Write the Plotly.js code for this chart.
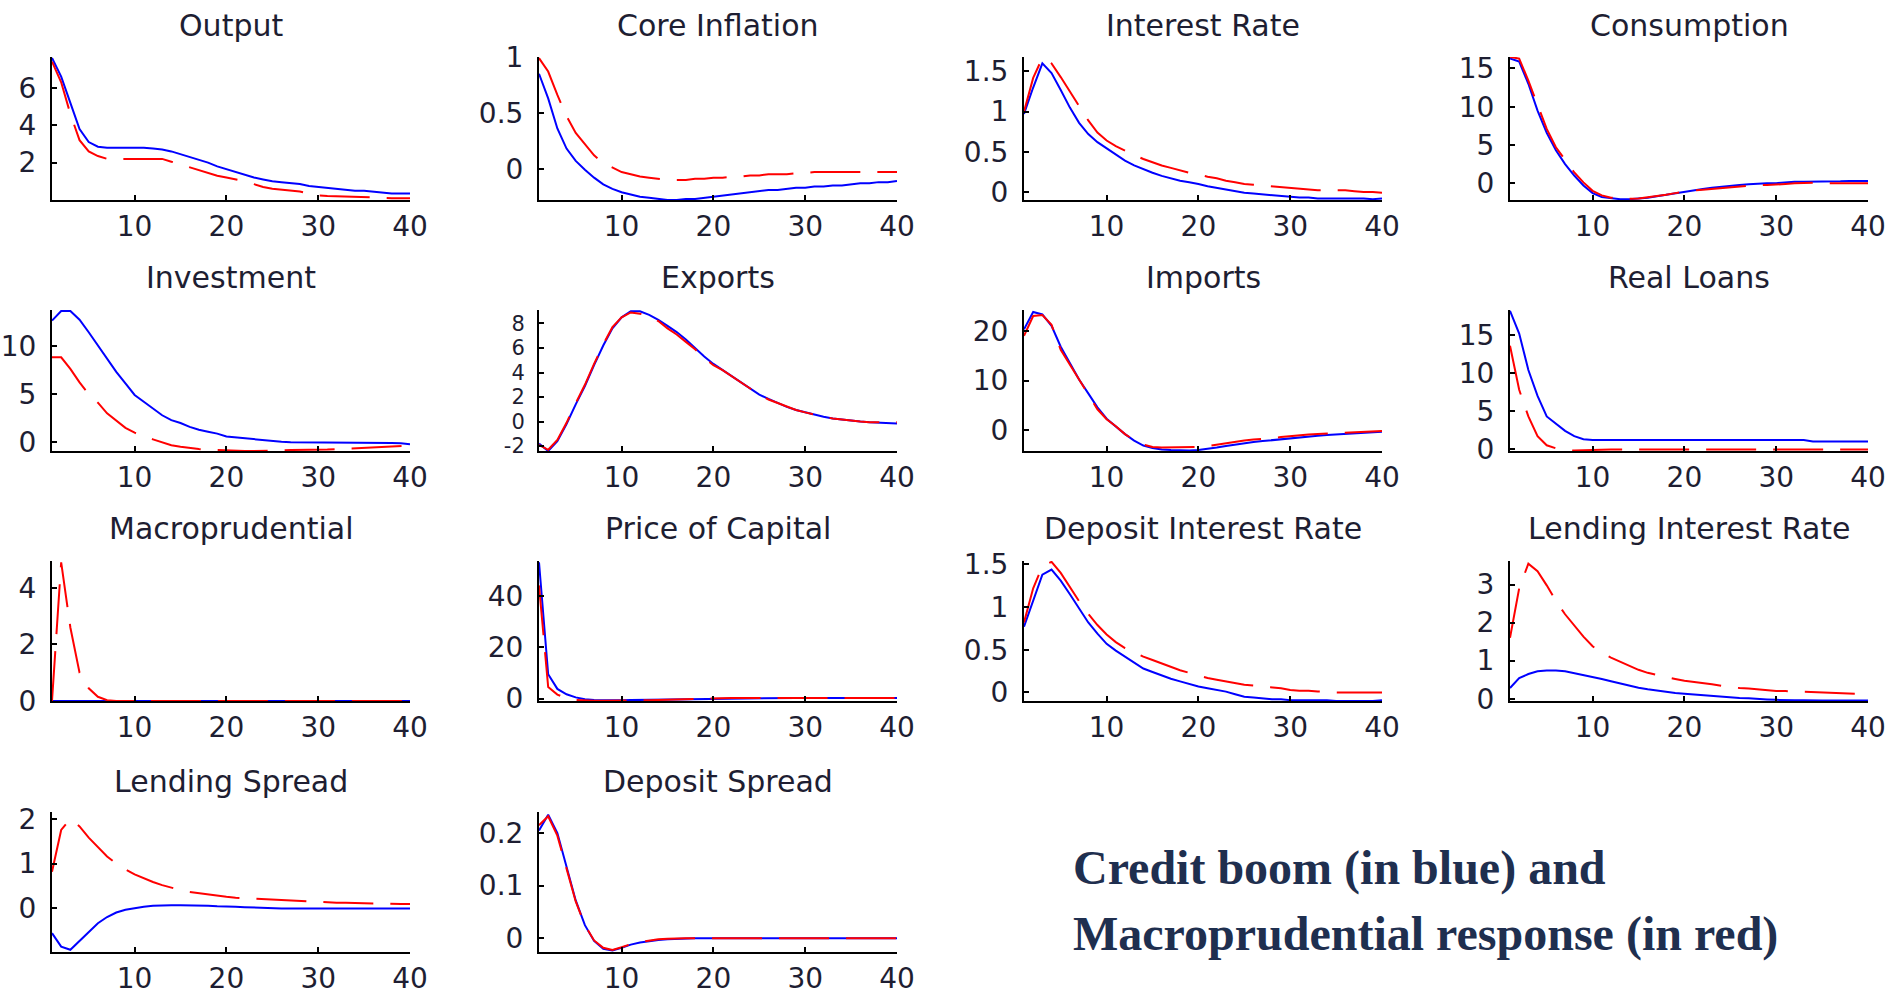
<!DOCTYPE html>
<html><head><meta charset="utf-8">
<script src="https://cdn.plot.ly/plotly-3.0.1.min.js"></script>
<style>html,body{margin:0;padding:0;background:#fff;}#chart{width:1895px;height:994px;}</style>
</head><body><div id="chart"></div>
<script>
const periods = [1,2,3,4,5,6,7,8,9,10,11,12,13,14,15,16,17,18,19,20,21,22,23,24,25,26,27,28,29,30,31,32,33,34,35,36,37,38,39,40];
const panelTitles = ["Output","Core Inflation","Interest Rate","Consumption","Investment","Exports","Imports","Real Loans","Macroprudential","Price of Capital","Deposit Interest Rate","Lending Interest Rate","Lending Spread","Deposit Spread"];
const xTickVals = [10,20,30,40];

// Credit boom (blue)
const outputBoom = [7.6,6.6,5.2,3.8,3.1,2.85,2.8,2.8,2.8,2.8,2.8,2.75,2.7,2.6,2.45,2.3,2.15,2.0,1.8,1.65,1.5,1.35,1.2,1.1,1.0,0.95,0.9,0.85,0.75,0.7,0.65,0.6,0.55,0.5,0.5,0.45,0.4,0.35,0.35,0.35];
const inflationBoom = [0.85,0.63,0.36,0.18,0.07,-0.01,-0.08,-0.14,-0.18,-0.21,-0.23,-0.25,-0.26,-0.27,-0.28,-0.28,-0.27,-0.27,-0.26,-0.25,-0.24,-0.23,-0.22,-0.21,-0.2,-0.19,-0.19,-0.18,-0.17,-0.17,-0.16,-0.16,-0.15,-0.15,-0.14,-0.13,-0.13,-0.12,-0.12,-0.11];
const rateBoom = [0.97,1.3,1.6,1.48,1.27,1.05,0.86,0.72,0.62,0.54,0.46,0.39,0.33,0.28,0.24,0.2,0.17,0.14,0.12,0.1,0.07,0.05,0.03,0.01,-0.01,-0.02,-0.03,-0.04,-0.05,-0.06,-0.07,-0.07,-0.08,-0.08,-0.08,-0.08,-0.08,-0.08,-0.09,-0.08];
const consumptionBoom = [16.3,15.9,13.0,9.5,6.6,4.3,2.5,1.0,-0.3,-1.3,-1.8,-2.0,-2.1,-2.1,-2.05,-1.9,-1.7,-1.5,-1.3,-1.05,-0.9,-0.75,-0.6,-0.45,-0.35,-0.25,-0.15,-0.05,0.0,0.0,0.1,0.2,0.2,0.2,0.2,0.25,0.25,0.3,0.3,0.3];
const investmentBoom = [12.6,13.6,13.6,12.7,11.4,10.0,8.6,7.3,6.1,4.9,4.2,3.5,2.8,2.3,2.0,1.6,1.3,1.1,0.9,0.6,0.5,0.45,0.35,0.25,0.1,0.05,0.0,0.0,-0.05,-0.07,-0.07,-0.07,-0.07,-0.07,-0.07,-0.07,-0.07,-0.07,-0.1,-0.2];
const exportsBoom = [-1.8,-2.4,-1.6,-0.2,1.4,2.9,4.6,6.2,7.6,8.5,9.0,9.0,8.7,8.3,7.8,7.3,6.7,6.0,5.3,4.7,4.2,3.75,3.2,2.7,2.2,1.85,1.5,1.2,0.95,0.75,0.55,0.4,0.25,0.15,0.05,0.0,-0.05,-0.1,-0.15,-0.15];
const importsBoom = [20.3,23.8,23.3,21.0,16.8,13.4,10.2,7.4,4.6,2.3,0.8,-0.8,-2.1,-3.1,-3.6,-3.9,-4.0,-4.1,-4.1,-4.0,-3.8,-3.5,-3.2,-2.9,-2.6,-2.4,-2.2,-2.0,-1.8,-1.6,-1.45,-1.3,-1.15,-1.0,-0.9,-0.8,-0.7,-0.6,-0.5,-0.3];
const loansBoom = [18.2,15.2,10.4,7.0,4.3,3.3,2.4,1.7,1.3,1.2,1.2,1.2,1.2,1.2,1.2,1.2,1.2,1.2,1.2,1.2,1.2,1.2,1.2,1.2,1.2,1.2,1.2,1.2,1.2,1.2,1.2,1.2,1.2,1.0,1.0,1.0,1.0,1.0,1.0,1.0];
const macroBoom = [0,0,0,0,0,0,0,0,0,0,0,0,0,0,0,0,0,0,0,0,0,0,0,0,0,0,0,0,0,0,0,0,0,0,0,0,0,0,0,0];
const capitalBoom = [53,9.5,3.8,1.7,0.5,-0.2,-0.5,-0.6,-0.6,-0.6,-0.55,-0.5,-0.45,-0.4,-0.35,-0.3,-0.2,-0.1,0,0.1,0.15,0.2,0.2,0.25,0.25,0.3,0.3,0.3,0.3,0.3,0.3,0.3,0.3,0.3,0.3,0.3,0.3,0.3,0.3,0.3];
const depositRateBoom = [0.77,1.07,1.38,1.44,1.31,1.15,0.98,0.82,0.69,0.57,0.49,0.42,0.35,0.28,0.24,0.2,0.16,0.13,0.1,0.07,0.05,0.03,0.01,-0.02,-0.05,-0.06,-0.07,-0.08,-0.08,-0.09,-0.09,-0.09,-0.09,-0.09,-0.1,-0.1,-0.1,-0.1,-0.1,-0.09];
const lendingRateBoom = [0.28,0.54,0.65,0.72,0.74,0.74,0.72,0.67,0.63,0.58,0.52,0.46,0.4,0.34,0.29,0.25,0.21,0.18,0.15,0.13,0.11,0.09,0.07,0.05,0.03,0.02,0.01,-0.01,-0.02,-0.03,-0.04,-0.04,-0.04,-0.05,-0.05,-0.05,-0.05,-0.05,-0.05,-0.05];
const lendingSpreadBoom = [-0.55,-0.85,-0.92,-0.72,-0.52,-0.33,-0.19,-0.09,-0.03,0.01,0.04,0.06,0.07,0.07,0.07,0.07,0.06,0.06,0.05,0.05,0.04,0.03,0.02,0.01,0.01,0,0,0,0,0,0,0,0,0,0,0,0,0,0,0];
const depositSpreadBoom = [0.205,0.235,0.2,0.135,0.072,0.025,-0.005,-0.02,-0.023,-0.018,-0.012,-0.008,-0.005,-0.003,-0.002,-0.001,0,0,0,0,0,0,0,0,0,0,0,0,0,0,0,0,0,0,0,0,0,0,0,0];

// Macroprudential response (red)
const outputMacro = [7.4,6.3,4.6,3.2,2.6,2.35,2.2,2.2,2.2,2.2,2.2,2.2,2.2,2.05,1.9,1.75,1.6,1.45,1.3,1.2,1.1,1.0,0.85,0.7,0.6,0.55,0.5,0.45,0.35,0.25,0.22,0.2,0.18,0.15,0.13,0.12,0.11,0.1,0.1,0.1];
const inflationMacro = [0.99,0.87,0.66,0.47,0.32,0.22,0.12,0.05,0.01,-0.03,-0.05,-0.07,-0.08,-0.09,-0.1,-0.1,-0.1,-0.09,-0.09,-0.08,-0.08,-0.07,-0.07,-0.06,-0.06,-0.05,-0.05,-0.05,-0.04,-0.04,-0.03,-0.03,-0.03,-0.03,-0.03,-0.03,-0.03,-0.03,-0.03,-0.03];
const rateMacro = [1.0,1.42,1.67,1.6,1.43,1.25,1.07,0.89,0.74,0.64,0.57,0.51,0.46,0.41,0.37,0.33,0.3,0.27,0.24,0.22,0.19,0.17,0.14,0.12,0.1,0.09,0.08,0.07,0.06,0.05,0.04,0.03,0.02,0.02,0.02,0.02,0.01,0.0,0.0,-0.01];
const consumptionMacro = [16.5,16.3,13.4,10.2,7.1,4.7,3.0,1.4,0.1,-1.0,-1.6,-1.9,-2.0,-2.05,-2.0,-1.85,-1.7,-1.5,-1.3,-1.1,-0.95,-0.85,-0.75,-0.6,-0.5,-0.4,-0.3,-0.25,-0.25,-0.2,-0.1,0.0,0.05,0.05,0.0,0.0,0.0,0.0,0.0,0.0];
const investmentMacro = [8.8,8.8,7.6,6.2,5.0,4.1,3.0,2.2,1.5,1.0,0.6,0.3,0.0,-0.3,-0.45,-0.6,-0.7,-0.75,-0.8,-0.85,-0.85,-0.9,-0.9,-0.9,-0.85,-0.85,-0.8,-0.8,-0.8,-0.75,-0.75,-0.7,-0.65,-0.6,-0.55,-0.5,-0.45,-0.4,-0.35,-0.35];
const exportsMacro = [-1.9,-2.3,-1.5,-0.1,1.5,3.0,4.7,6.3,7.7,8.5,8.9,8.8,8.6,8.2,7.6,7.1,6.5,5.9,5.2,4.6,4.2,3.7,3.2,2.7,2.2,1.8,1.5,1.2,0.95,0.75,0.55,0.4,0.25,0.15,0.05,0.0,-0.05,-0.05,-0.05,-0.05];
const importsMacro = [19.0,23.0,23.2,21.2,16.2,13.2,10.0,7.0,4.2,2.2,0.8,-0.8,-2.0,-2.9,-3.4,-3.5,-3.5,-3.5,-3.5,-3.4,-3.2,-2.9,-2.7,-2.4,-2.1,-1.9,-1.8,-1.6,-1.4,-1.2,-1.0,-0.9,-0.8,-0.7,-0.6,-0.5,-0.4,-0.35,-0.3,-0.15];
const loansMacro = [13.6,7.8,4.3,1.7,0.5,0.1,-0.1,-0.2,-0.15,-0.1,-0.05,-0.05,-0.05,-0.05,-0.05,-0.05,-0.05,-0.05,-0.05,-0.05,-0.05,-0.05,-0.05,-0.05,-0.05,-0.05,-0.05,-0.05,-0.05,-0.05,-0.05,-0.05,-0.05,-0.05,-0.05,-0.05,-0.05,-0.05,-0.05,-0.05];
const macroMacro = [0,4.9,2.6,1.0,0.45,0.15,0.03,0,0,0,0,0,0,0,0,0,0,0,0,0,0,0,0,0,0,0,0,0,0,0,0,0,0,0,0,0,0,0,0,0];
const capitalMacro = [44,4.5,1.6,0.2,-0.5,-0.7,-0.8,-0.8,-0.8,-0.8,-0.75,-0.7,-0.6,-0.5,-0.4,-0.3,-0.1,0.1,0.2,0.3,0.3,0.3,0.3,0.3,0.3,0.3,0.3,0.3,0.3,0.3,0.3,0.3,0.3,0.3,0.3,0.3,0.3,0.3,0.3,0.3];
const depositRateMacro = [0.82,1.22,1.48,1.53,1.4,1.23,1.07,0.92,0.79,0.68,0.59,0.52,0.47,0.42,0.38,0.34,0.3,0.26,0.23,0.2,0.17,0.15,0.13,0.11,0.09,0.08,0.07,0.06,0.05,0.03,0.02,0.02,0.01,0.01,0.0,0.0,0.0,0.0,0.0,0.0];
const lendingRateMacro = [1.6,2.9,3.55,3.35,2.98,2.57,2.22,1.92,1.63,1.38,1.2,1.08,0.97,0.85,0.76,0.68,0.62,0.57,0.52,0.47,0.44,0.42,0.38,0.34,0.31,0.28,0.27,0.25,0.22,0.2,0.2,0.19,0.18,0.17,0.16,0.15,0.14,0.13,0.13,0.12];
const lendingSpreadMacro = [0.82,1.75,2.0,1.83,1.58,1.37,1.16,1.0,0.87,0.76,0.67,0.59,0.52,0.46,0.41,0.37,0.34,0.31,0.28,0.26,0.24,0.23,0.21,0.2,0.19,0.18,0.17,0.16,0.15,0.15,0.14,0.13,0.13,0.12,0.12,0.11,0.11,0.1,0.1,0.1];
const depositSpreadMacro = [0.215,0.232,0.195,0.13,0.07,0.025,-0.004,-0.018,-0.022,-0.017,-0.011,-0.007,-0.004,-0.002,-0.001,0,0,0,0,0,0,0,0,0,0,0,0,0,0,0,0,0,0,0,0,0,0,0,0,0];

// y tick labels per panel
const outputTicks = [2,4,6];
const inflationTicks = [0,0.5,1];
const rateTicks = [0,0.5,1,1.5];
const consumptionTicks = [0,5,10,15];
const investmentTicks = [0,5,10];
const exportsTicks = [-2,0,2,4,6,8];
const importsTicks = [0,10,20];
const loansTicks = [0,5,10,15];
const macroTicks = [0,2,4];
const capitalTicks = [0,20,40];
const depositRateTicks = [0,0.5,1,1.5];
const lendingRateTicks = [0,1,2,3];
const lendingSpreadTicks = [0,1,2];
const depositSpreadTicks = [0,0.1,0.2];

const boomSeries = [outputBoom,inflationBoom,rateBoom,consumptionBoom,investmentBoom,exportsBoom,importsBoom,loansBoom,macroBoom,capitalBoom,depositRateBoom,lendingRateBoom,lendingSpreadBoom,depositSpreadBoom];
const macroSeries = [outputMacro,inflationMacro,rateMacro,consumptionMacro,investmentMacro,exportsMacro,importsMacro,loansMacro,macroMacro,capitalMacro,depositRateMacro,lendingRateMacro,lendingSpreadMacro,depositSpreadMacro];
const tickSets = [outputTicks,inflationTicks,rateTicks,consumptionTicks,investmentTicks,exportsTicks,importsTicks,loansTicks,macroTicks,capitalTicks,depositRateTicks,lendingRateTicks,lendingSpreadTicks,depositSpreadTicks];

// layout (styling only)
const yRanges = [[0,7.65],[-0.28,1.0],[-0.1,1.68],[-2.2,16.5],[-0.9,13.7],[-2.4,9.1],[-4.2,24.2],[-0.25,18.3],[0,4.95],[-0.9,53.5],[-0.1,1.54],[-0.06,3.62],[-0.97,2.15],[-0.026,0.24]];
const W = 1895, H = 994;
const colLeft = [52,539,1024,1510], colWidth = 358;
const rowTop = [57,310,561,812], rowBottom = [200,451,701,952];
const titleY = [25,277,528,781];
const textColor = '#1e1e32';
const FONT = 'DejaVu Sans, Arial, sans-serif';

const data = [];
const layout = {
  width: W, height: H, margin: {l:0,r:0,t:0,b:0},
  paper_bgcolor: '#fff', plot_bgcolor: 'rgba(0,0,0,0)', showlegend: false,
  annotations: []
};
for (let i = 0; i < panelTitles.length; i++) {
  const r = Math.floor(i/4), c = i%4;
  const sfx = i === 0 ? '' : String(i+1);
  const xa = 'x' + sfx, ya = 'y' + sfx;
  data.push({x: periods, y: boomSeries[i], xaxis: xa, yaxis: ya, type: 'scatter', mode: 'lines',
    line: {color: '#0000ff', width: 2}, hoverinfo: 'skip'});
  data.push({x: periods, y: macroSeries[i], xaxis: xa, yaxis: ya, type: 'scatter', mode: 'lines',
    line: {color: '#ff0000', width: 2, dash: '50px,17px'}, hoverinfo: 'skip'});
  const x0 = colLeft[c]/W, x1 = (colLeft[c]+colWidth)/W;
  const y0 = 1 - rowBottom[r]/H, y1 = 1 - rowTop[r]/H;
  const common = {showline: true, linecolor: '#000', linewidth: 2, mirror: false, ticks: 'inside', ticklen: 5,
    tickwidth: 2, tickcolor: '#000', showgrid: false, zeroline: false, fixedrange: true};
  const ySize = (i === 5) ? 21 : 28;
  layout['xaxis' + sfx] = Object.assign({}, common, {domain: [x0,x1], range: [1,40], anchor: ya,
    tickmode: 'array', tickvals: xTickVals, ticktext: xTickVals.map(String), ticklabelstandoff: 0,
    tickfont: {family: FONT, size: 28, color: textColor}});
  layout['yaxis' + sfx] = Object.assign({}, common, {domain: [y0,y1], range: yRanges[i], anchor: xa,
    tickmode: 'array', tickvals: tickSets[i], ticktext: tickSets[i].map(String), ticklabelstandoff: 8,
    tickfont: {family: FONT, size: ySize, color: textColor}});
  layout.annotations.push({text: panelTitles[i], xref: 'paper', yref: 'paper',
    x: (colLeft[c] + colWidth/2)/W, y: 1 - titleY[r]/H, xanchor: 'center', yanchor: 'middle',
    showarrow: false, font: {family: FONT, size: 30, color: textColor}});
}
layout.annotations.push({text: '<b>Credit boom (in blue) and</b>', xref: 'paper', yref: 'paper',
  x: 1071/W, y: 1 - 868/H, xanchor: 'left', yanchor: 'middle', showarrow: false,
  font: {family: 'Liberation Serif, Times New Roman, serif', size: 48, color: '#1f2f4f'}});
layout.annotations.push({text: '<b>Macroprudential response (in red)</b>', xref: 'paper', yref: 'paper',
  x: 1071/W, y: 1 - 934/H, xanchor: 'left', yanchor: 'middle', showarrow: false,
  font: {family: 'Liberation Serif, Times New Roman, serif', size: 48, color: '#1f2f4f'}});

Plotly.newPlot('chart', data, layout, {staticPlot: true, displayModeBar: false});
</script></body></html>
